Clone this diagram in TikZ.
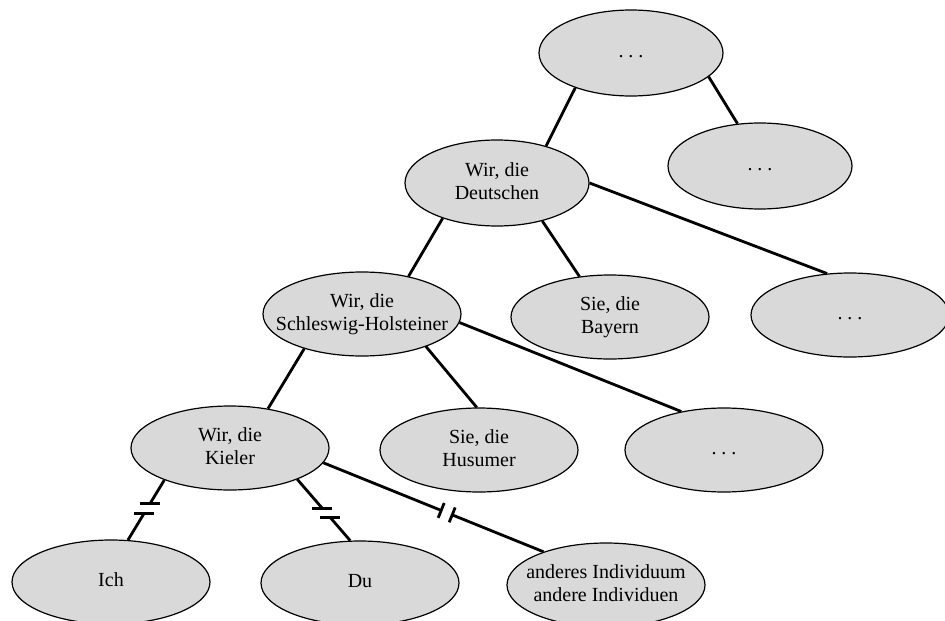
\documentclass[tikz,border=0pt]{standalone}
\usepackage{fontspec}
\setmainfont{Liberation Serif}
\usetikzlibrary{shapes.geometric,calc}
\definecolor{groupgray}{RGB}{217,217,217}
\newcommand{\grp}[1]{\makebox[0pt]{\begin{tabular}{@{}c@{}}#1\end{tabular}}}

\begin{document}
\begin{tikzpicture}[x=1pt,y=-1pt,
    every node/.style={ellipse,draw,line width=1.2pt,fill=groupgray,inner sep=0pt,
      minimum width=198pt,minimum height=84pt,font=\fontsize{20}{23}\selectfont},
    upper/.style={minimum width=184pt,minimum height=86pt},
    link/.style={line width=2.8pt},
    cut/.style={line width=2.8pt}]
  \useasboundingbox (0,0) rectangle (945,621);
  \draw
    (631,53) node[upper] (top){\grp{.\ .\ .}}
    (760,166) node[upper] (etc1){\grp{.\ .\ .}}
    (497,183) node[upper] (de){\grp{Wir, die\\Deutschen}}
    (362,314) node (sh){\grp{Wir, die\\Schleswig-Holsteiner}}
    (610,317) node (by){\grp{Sie, die\\Bayern}}
    (850,315) node (etc2){\grp{.\ .\ .}}
    (230,448) node (ki){\grp{Wir, die\\Kieler}}
    (479,450) node (hu){\grp{Sie, die\\Husumer}}
    (724,450) node (etc3){\grp{.\ .\ .}}
    (111,582) node (ich){\grp{Ich}}
    (360,583) node (du){\grp{Du}}
    (606,585) node (ind){\grp{anderes Individuum\\andere Individuen}};
  \begin{scope}[link]
    \draw (top.212) to (de.37);
    \draw (top.343) to (etc1.118);
    \draw (de.213) to (sh.39);
    \draw (de.320) to (by.127);
    \draw (de.0) to (etc2.119);
    \draw (sh.211) to (ki.46);
    \draw (sh.333) to (hu.93);
    \draw (sh.355) to (etc3.138);
  \end{scope}
  % broken links below the Kieler
  \coordinate (ichA) at ($(ki.206)!0.39!(ich.68)$);
  \coordinate (ichB) at ($(ki.206)!0.56!(ich.68)$);
  \coordinate (duA) at ($(ki.335)!0.47!(du.103)$);
  \coordinate (duB) at ($(ki.335)!0.62!(du.103)$);
  \coordinate (indA) at ($(ki.351)!0.535!(ind.152)$);
  \coordinate (indB) at ($(ki.351)!0.585!(ind.152)$);
  \begin{scope}[link]
    \draw (ki.206) to (ichA);
    \draw (ichB) to (ich.68);
    \draw (ki.335) to (duA);
    \draw (duB) to (du.103);
    \draw (ki.351) to (indA);
    \draw (indB) to (ind.152);
  \end{scope}
  \draw[cut] ($(ichA)+(-10,0)$) -- ($(ichA)+(10,0)$);
  \draw[cut] ($(ichB)+(-10,0)$) -- ($(ichB)+(10,0)$);
  \draw[cut] ($(duA)+(-10,0)$) -- ($(duA)+(10,0)$);
  \draw[cut] ($(duB)+(-10,0)$) -- ($(duB)+(10,0)$);
  \draw[cut] ($(indA)!8pt!90:(ind.152)$) -- ($(indA)!8pt!-90:(ind.152)$);
  \draw[cut] ($(indB)!8pt!90:(ind.152)$) -- ($(indB)!8pt!-90:(ind.152)$);
\end{tikzpicture}
\end{document}
